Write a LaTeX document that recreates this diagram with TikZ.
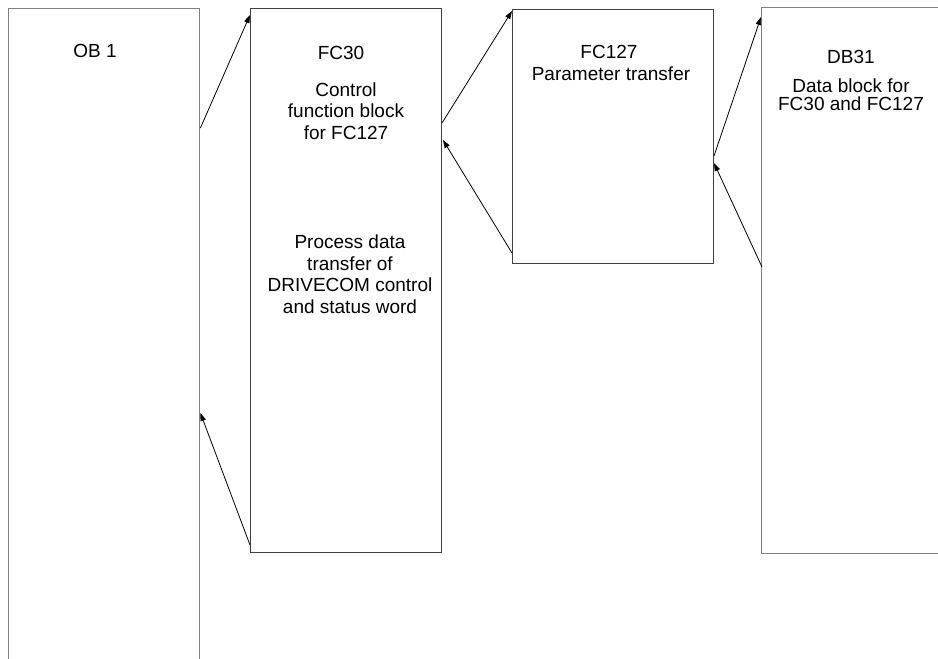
\documentclass[tikz,border=0pt]{standalone}
\usepackage{fontspec}
\setmainfont{Liberation Sans}
\usetikzlibrary{arrows.meta}
\begin{document}
\begin{tikzpicture}[x=1pt,y=-1pt,
  blk/.style={rectangle,inner sep=0pt,anchor=north west,line width=1pt,draw=black!75},
  gblk/.style={rectangle,inner sep=0pt,anchor=north west,line width=1.4pt,draw=black!50},
  lbl/.style={inner sep=0pt,anchor=base,font=\fontsize{19}{21.7}\selectfont},
  arr/.style={line width=0.8pt,-{Triangle[length=8pt,width=5.5pt]}}]
\useasboundingbox (0,0) rectangle (938,659);
\clip (0,0) rectangle (938,659);
% blocks
\node[gblk,minimum width=191pt,minimum height=680pt] (ob1) at (8,8) {};
\node[blk,minimum width=191pt,minimum height=544pt] (fc30) at (250,8) {};
\node[blk,minimum width=201pt,minimum height=254pt] (fc127) at (512,9) {};
\node[gblk,minimum width=200pt,minimum height=546pt] (db31) at (761,7) {};
% texts
\node[lbl] (t1) at (95,57) {OB 1};
\node[lbl] (t2) at (341,59) {FC30};
\node[lbl] (t3) at (346,96) {Control};
\node[lbl] (t4) at (346,117.7) {function block};
\node[lbl] (t5) at (346,139.4) {for FC127};
\node[lbl] (t6) at (350,248.3) {Process data};
\node[lbl] (t7) at (350,270) {transfer of};
\node[lbl] (t8) at (350,291.7) {DRIVECOM control};
\node[lbl] (t9) at (350,313.4) {and status word};
\node[lbl] (t10) at (609,58) {FC127};
\node[lbl] (t11) at (611,80) {Parameter transfer};
\node[lbl] (t12) at (851,63) {DB31};
\node[lbl] (t13) at (851,92) {Data block for};
\node[lbl] (t14) at (851,110) {FC30 and FC127};
% connectors
\draw[arr] ([yshift=-120pt]ob1.north east) -- ([yshift=-7pt]fc30.north west);
\draw[arr] ([yshift=-115pt]fc30.north east) -- ([yshift=-2pt]fc127.north west);
\draw[arr] ([yshift=-147pt]fc127.north east) -- ([yshift=-10pt]db31.north west);
\draw[arr] ([yshift=-260pt,xshift=1pt]db31.north west) -- ([yshift=-154pt]fc127.north east);
\draw[arr] ([yshift=-244pt]fc127.north west) -- ([yshift=-132pt,xshift=1pt]fc30.north east);
\draw[arr] ([yshift=-537pt]fc30.north west) -- ([yshift=-405pt]ob1.north east);
\end{tikzpicture}
\end{document}
